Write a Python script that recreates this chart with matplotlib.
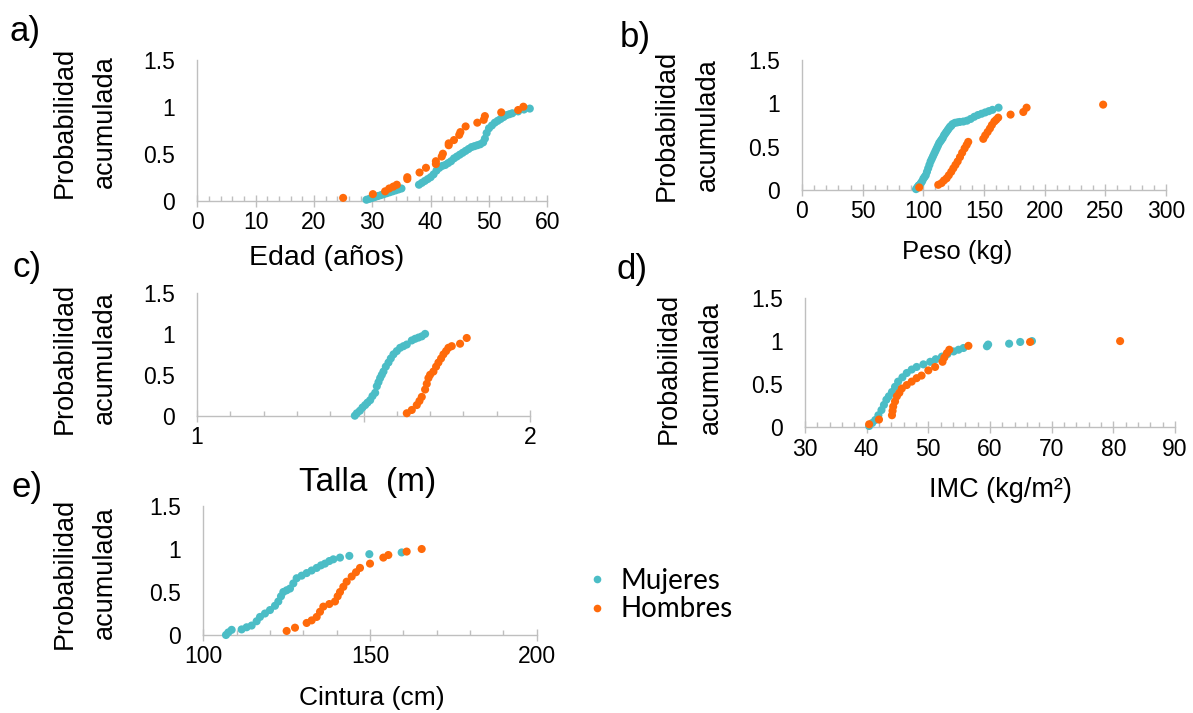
import matplotlib
matplotlib.use("Agg")
import matplotlib.pyplot as plt
from matplotlib.lines import Line2D
from matplotlib.ticker import MultipleLocator, FixedLocator, FixedFormatter

plt.rcParams['font.family'] = ['Liberation Sans', 'DejaVu Sans']

TEAL = '#4BBDC6'
ORANGE = '#FF6A0A'
GRAY = '#BFBFBF'

# ---------------- data ----------------
# a) Edad (años)
edad_muj = [29.0, 29.5, 30.0, 30.5, 31.0, 31.5, 32.0, 32.5, 33.0, 33.5, 34.0, 34.5, 35.0,
            38.0, 38.5, 39.0, 39.5, 40.0, 40.5, 41.0, 41.5, 42.0, 42.5, 43.0, 43.5, 44.0,
            44.5, 45.0, 45.5, 46.0, 46.5, 47.0, 47.5, 48.0, 48.5, 49.0, 49.3, 49.6, 50.0,
            50.5, 51.0, 51.5, 52.0, 52.5, 53.0, 53.5, 54.0, 55.0, 56.0, 57.0]
edad_muj_p = [0.01, 0.02, 0.03, 0.04, 0.05, 0.06, 0.07, 0.08, 0.09, 0.10, 0.11, 0.12, 0.13,
              0.17, 0.19, 0.21, 0.23, 0.25, 0.28, 0.32, 0.35, 0.37, 0.38, 0.40, 0.42, 0.45,
              0.47, 0.49, 0.51, 0.53, 0.55, 0.57, 0.58, 0.59, 0.60, 0.62, 0.66, 0.72, 0.77,
              0.80, 0.83, 0.85, 0.87, 0.89, 0.91, 0.92, 0.93, 0.95, 0.97, 0.98]
edad_hom = [25.0, 30.1, 32.2, 32.9, 33.6, 34.2, 36.0, 36.0, 38.1, 39.2, 40.9, 40.9, 41.9,
            42.1, 43.1, 43.1, 44.0, 44.9, 45.1, 46.0, 48.0, 49.1, 49.3, 52.1, 55.0, 55.9]
edad_hom_p = [0.03, 0.07, 0.10, 0.13, 0.15, 0.17, 0.23, 0.25, 0.30, 0.35, 0.39, 0.42, 0.47,
              0.50, 0.59, 0.61, 0.645, 0.70, 0.73, 0.79, 0.83, 0.86, 0.90, 0.94, 0.965, 1.0]

# b) Peso (kg)
peso_muj = [94, 95, 96, 97, 98, 99, 100, 101, 102, 103, 104, 105, 106, 107, 108, 109, 110,
            111, 112, 113, 114, 115, 116, 117, 118, 119, 120, 121, 122, 123, 124, 126, 128,
            130, 133, 136, 139, 142, 145, 148, 151, 154, 157, 162]
peso_muj_p = [0.01, 0.03, 0.05, 0.06, 0.08, 0.10, 0.13, 0.15, 0.17, 0.21, 0.25, 0.29, 0.33,
              0.36, 0.39, 0.42, 0.45, 0.48, 0.51, 0.54, 0.56, 0.58, 0.60, 0.63, 0.65, 0.67,
              0.69, 0.71, 0.73, 0.74, 0.76, 0.775, 0.78, 0.785, 0.79, 0.80, 0.82, 0.845,
              0.865, 0.88, 0.895, 0.91, 0.925, 0.95]
peso_hom = [96.6, 112.3, 115, 117, 119.2, 121, 123, 124.7, 126.5, 128.3, 130.2, 132, 134,
            135.7, 137, 149.4, 151, 153, 154.9, 156.5, 158.5, 160, 161.7, 171.9, 182.4,
            185.1, 248.2]
peso_hom_p = [0.03, 0.06, 0.08, 0.11, 0.135, 0.17, 0.21, 0.25, 0.29, 0.33, 0.38, 0.43, 0.48,
              0.52, 0.555, 0.59, 0.63, 0.67, 0.71, 0.75, 0.79, 0.81, 0.835, 0.87, 0.90,
              0.95, 0.985]

# c) Talla (m)
talla_muj = [1.474, 1.48, 1.489, 1.497, 1.505, 1.512, 1.52, 1.527, 1.535, 1.54, 1.545, 1.55,
             1.555, 1.56, 1.567, 1.575, 1.582, 1.59, 1.60, 1.61, 1.62, 1.63, 1.645, 1.655,
             1.665, 1.675, 1.685]
talla_muj_p = [0.0, 0.03, 0.06, 0.10, 0.13, 0.16, 0.19, 0.24, 0.28, 0.36, 0.41, 0.46, 0.50,
               0.54, 0.60, 0.65, 0.70, 0.75, 0.79, 0.83, 0.85, 0.87, 0.92, 0.94, 0.955,
               0.97, 1.0]
talla_hom = [1.63, 1.645, 1.66, 1.668, 1.675, 1.685, 1.69, 1.695, 1.70, 1.71, 1.718, 1.725,
             1.733, 1.74, 1.748, 1.755, 1.765, 1.79, 1.81]
talla_hom_p = [0.03, 0.07, 0.13, 0.18, 0.23, 0.32, 0.39, 0.46, 0.50, 0.54, 0.60, 0.65, 0.70,
               0.75, 0.79, 0.83, 0.85, 0.88, 0.95]

# d) IMC (kg/m²)
imc_muj = [40.4, 40.9, 41.4, 41.9, 42.4, 42.8, 43.2, 43.6, 44.1, 44.6, 45.1, 45.8, 46.5,
           47.3, 48.1, 49.2, 50.3, 51.2, 52.2, 53.1, 54.1, 54.9, 55.7, 59.5, 59.7, 63.1,
           64.9, 66.8]
imc_muj_p = [0.015, 0.05, 0.085, 0.14, 0.20, 0.26, 0.32, 0.36, 0.41, 0.47, 0.53, 0.58, 0.63,
             0.67, 0.70, 0.73, 0.76, 0.79, 0.82, 0.85, 0.88, 0.90, 0.92, 0.94, 0.96, 0.97,
             0.99, 1.0]
imc_hom = [40.4, 42.0, 44.1, 44.2, 44.3, 44.6, 44.9, 45.3, 45.7, 46.5, 47.3, 48.1, 48.9,
           50.0, 51.1, 52.3, 52.6, 53.0, 53.4, 56.5, 66.5, 81.1]
imc_hom_p = [0.035, 0.09, 0.14, 0.19, 0.24, 0.30, 0.36, 0.40, 0.45, 0.49, 0.53, 0.57, 0.60,
             0.66, 0.70, 0.76, 0.81, 0.86, 0.90, 0.945, 0.99, 1.0]

# e) Cintura (cm)
cint_muj = [106.8, 107.5, 108.5, 111.5, 113, 114.5, 116, 117, 118.5, 120, 121.5, 122.5,
            123.3, 124, 125, 126, 127, 128, 129.5, 131, 132.5, 134, 135.3, 136.5, 137.8,
            139, 141, 143.8, 149.8, 159.5]
cint_muj_p = [0.0, 0.03, 0.06, 0.065, 0.09, 0.11, 0.16, 0.21, 0.25, 0.29, 0.34, 0.39, 0.45,
              0.50, 0.52, 0.54, 0.60, 0.66, 0.69, 0.72, 0.75, 0.78, 0.81, 0.83, 0.86, 0.88,
              0.90, 0.92, 0.94, 0.96]
cint_hom = [125, 127.5, 131, 132.5, 134, 135, 136, 137.8, 139.5, 140.3, 141, 142, 143,
            144.5, 145.8, 147, 150, 154, 155.5, 161, 165.5]
cint_hom_p = [0.047, 0.085, 0.14, 0.17, 0.21, 0.27, 0.33, 0.36, 0.39, 0.45, 0.50, 0.56,
              0.62, 0.68, 0.73, 0.78, 0.83, 0.90, 0.93, 0.97, 1.0]

panel_letters = ['a)', 'b)', 'c)', 'd)', 'e)']
x_titles = ['Edad (años)', 'Peso (kg)', 'Talla  (m)', 'IMC (kg/m²)', 'Cintura (cm)']
y_title_1 = 'Probabilidad'
y_title_2 = 'acumulada'
y_ticks = [0, 0.5, 1, 1.5]
y_ticklabels = ['0', '0.5', '1', '1.5']
legend_labels = ['Mujeres', 'Hombres']

W, H = 1193, 713
fig = plt.figure(figsize=(W / 100, H / 100), dpi=100)


def px_axes(x0, x1, y0, y1):
    """x0,x1: pixel x of axis start/end; y0: pixel y of 0; y1: pixel y of top"""
    return fig.add_axes([x0 / W, 1 - y0 / H, (x1 - x0) / W, (y0 - y1) / H])


def style(ax, xlim, major, minor):
    ax.set_xlim(*xlim)
    ax.set_ylim(0, 1.5)
    for s in ['top', 'right']:
        ax.spines[s].set_visible(False)
    for s in ['left', 'bottom']:
        ax.spines[s].set_color(GRAY)
        ax.spines[s].set_linewidth(1.0)
    ax.set_yticks(y_ticks)
    ax.set_yticklabels(y_ticklabels)
    ax.tick_params(axis='y', length=0, pad=16, labelsize=16.5)
    ax.xaxis.set_major_locator(MultipleLocator(major))
    ax.xaxis.set_minor_locator(MultipleLocator(minor))
    ax.tick_params(axis='x', which='major', direction='inout', length=9, width=1.0,
                   color=GRAY, labelsize=16.5, pad=3)
    ax.tick_params(axis='x', which='minor', direction='in', length=3.5, width=1.0,
                   color=GRAY)
    ax.patch.set_alpha(0)


def pts(ax, xm, pm, xh, ph):
    ax.scatter(xm, pm, s=34, color=TEAL, edgecolors='none', clip_on=False, zorder=3)
    ax.scatter(xh, ph, s=34, color=ORANGE, edgecolors='none', clip_on=False, zorder=4)


# a
axa = px_axes(197.3, 547.3, 200.7, 59.7)
style(axa, (0, 60), 10, 2)
pts(axa, edad_muj, edad_muj_p, edad_hom, edad_hom_p)

# b
axb = px_axes(802, 1166, 190, 60)
style(axb, (0, 300), 50, 10)
pts(axb, peso_muj, peso_muj_p, peso_hom, peso_hom_p)

# c
axc = px_axes(197, 530, 415.7, 293)
style(axc, (1, 2), 0.5, 0.1)
axc.xaxis.set_major_locator(FixedLocator([1, 1.5, 2]))
axc.xaxis.set_major_formatter(FixedFormatter(['1', '', '2']))
pts(axc, talla_muj, talla_muj_p, talla_hom, talla_hom_p)

# d
axd = px_axes(805, 1175, 427.3, 298)
style(axd, (30, 90), 10, 2)
pts(axd, imc_muj, imc_muj_p, imc_hom, imc_hom_p)

# e
axe = px_axes(203.3, 536.7, 635, 506)
style(axe, (100, 200), 50, 10)
pts(axe, cint_muj, cint_muj_p, cint_hom, cint_hom_p)


def ftext(x, y, s, **kw):
    fig.text(x / W, 1 - y / H, s, **kw)


# panel letters
for (x, y), s in zip([(25, 31), (635, 38), (27, 268), (632, 270), (27, 488)], panel_letters):
    ftext(x, y, s, fontsize=25, ha='center', va='center')

# y titles
for (x1, x2, y) in [(65, 105, 122), (667, 708, 125), (65, 105, 358), (669, 711, 368),
                    (65, 105, 573)]:
    ftext(x1, y, y_title_1, fontsize=19.5, rotation=90, ha='center', va='center')
    ftext(x2, y, y_title_2, fontsize=19.5, rotation=90, ha='center', va='center')

# x titles
xt_pos = [(327, 258, 20.5), (957, 252, 18.5), (368, 482, 24), (1000, 490, 19.5),
          (372, 698, 19)]
for (x, y, fs), s in zip(xt_pos, x_titles):
    ftext(x, y, s, fontsize=fs, ha='center', va='center')

# legend
handles = [Line2D([], [], marker='o', linestyle='none', markersize=5.5, color=TEAL,
                  markeredgecolor='none'),
           Line2D([], [], marker='o', linestyle='none', markersize=5.5, color=ORANGE,
                  markeredgecolor='none')]
fig.legend(handles, legend_labels, loc='center left', bbox_to_anchor=(572 / W, 1 - 595 / H),
           frameon=False, handletextpad=0.35, labelspacing=0.1,
           handlelength=1.0, borderaxespad=0, prop={'family': 'Lato', 'size': 20})

fig.savefig('out.png', dpi=100)
